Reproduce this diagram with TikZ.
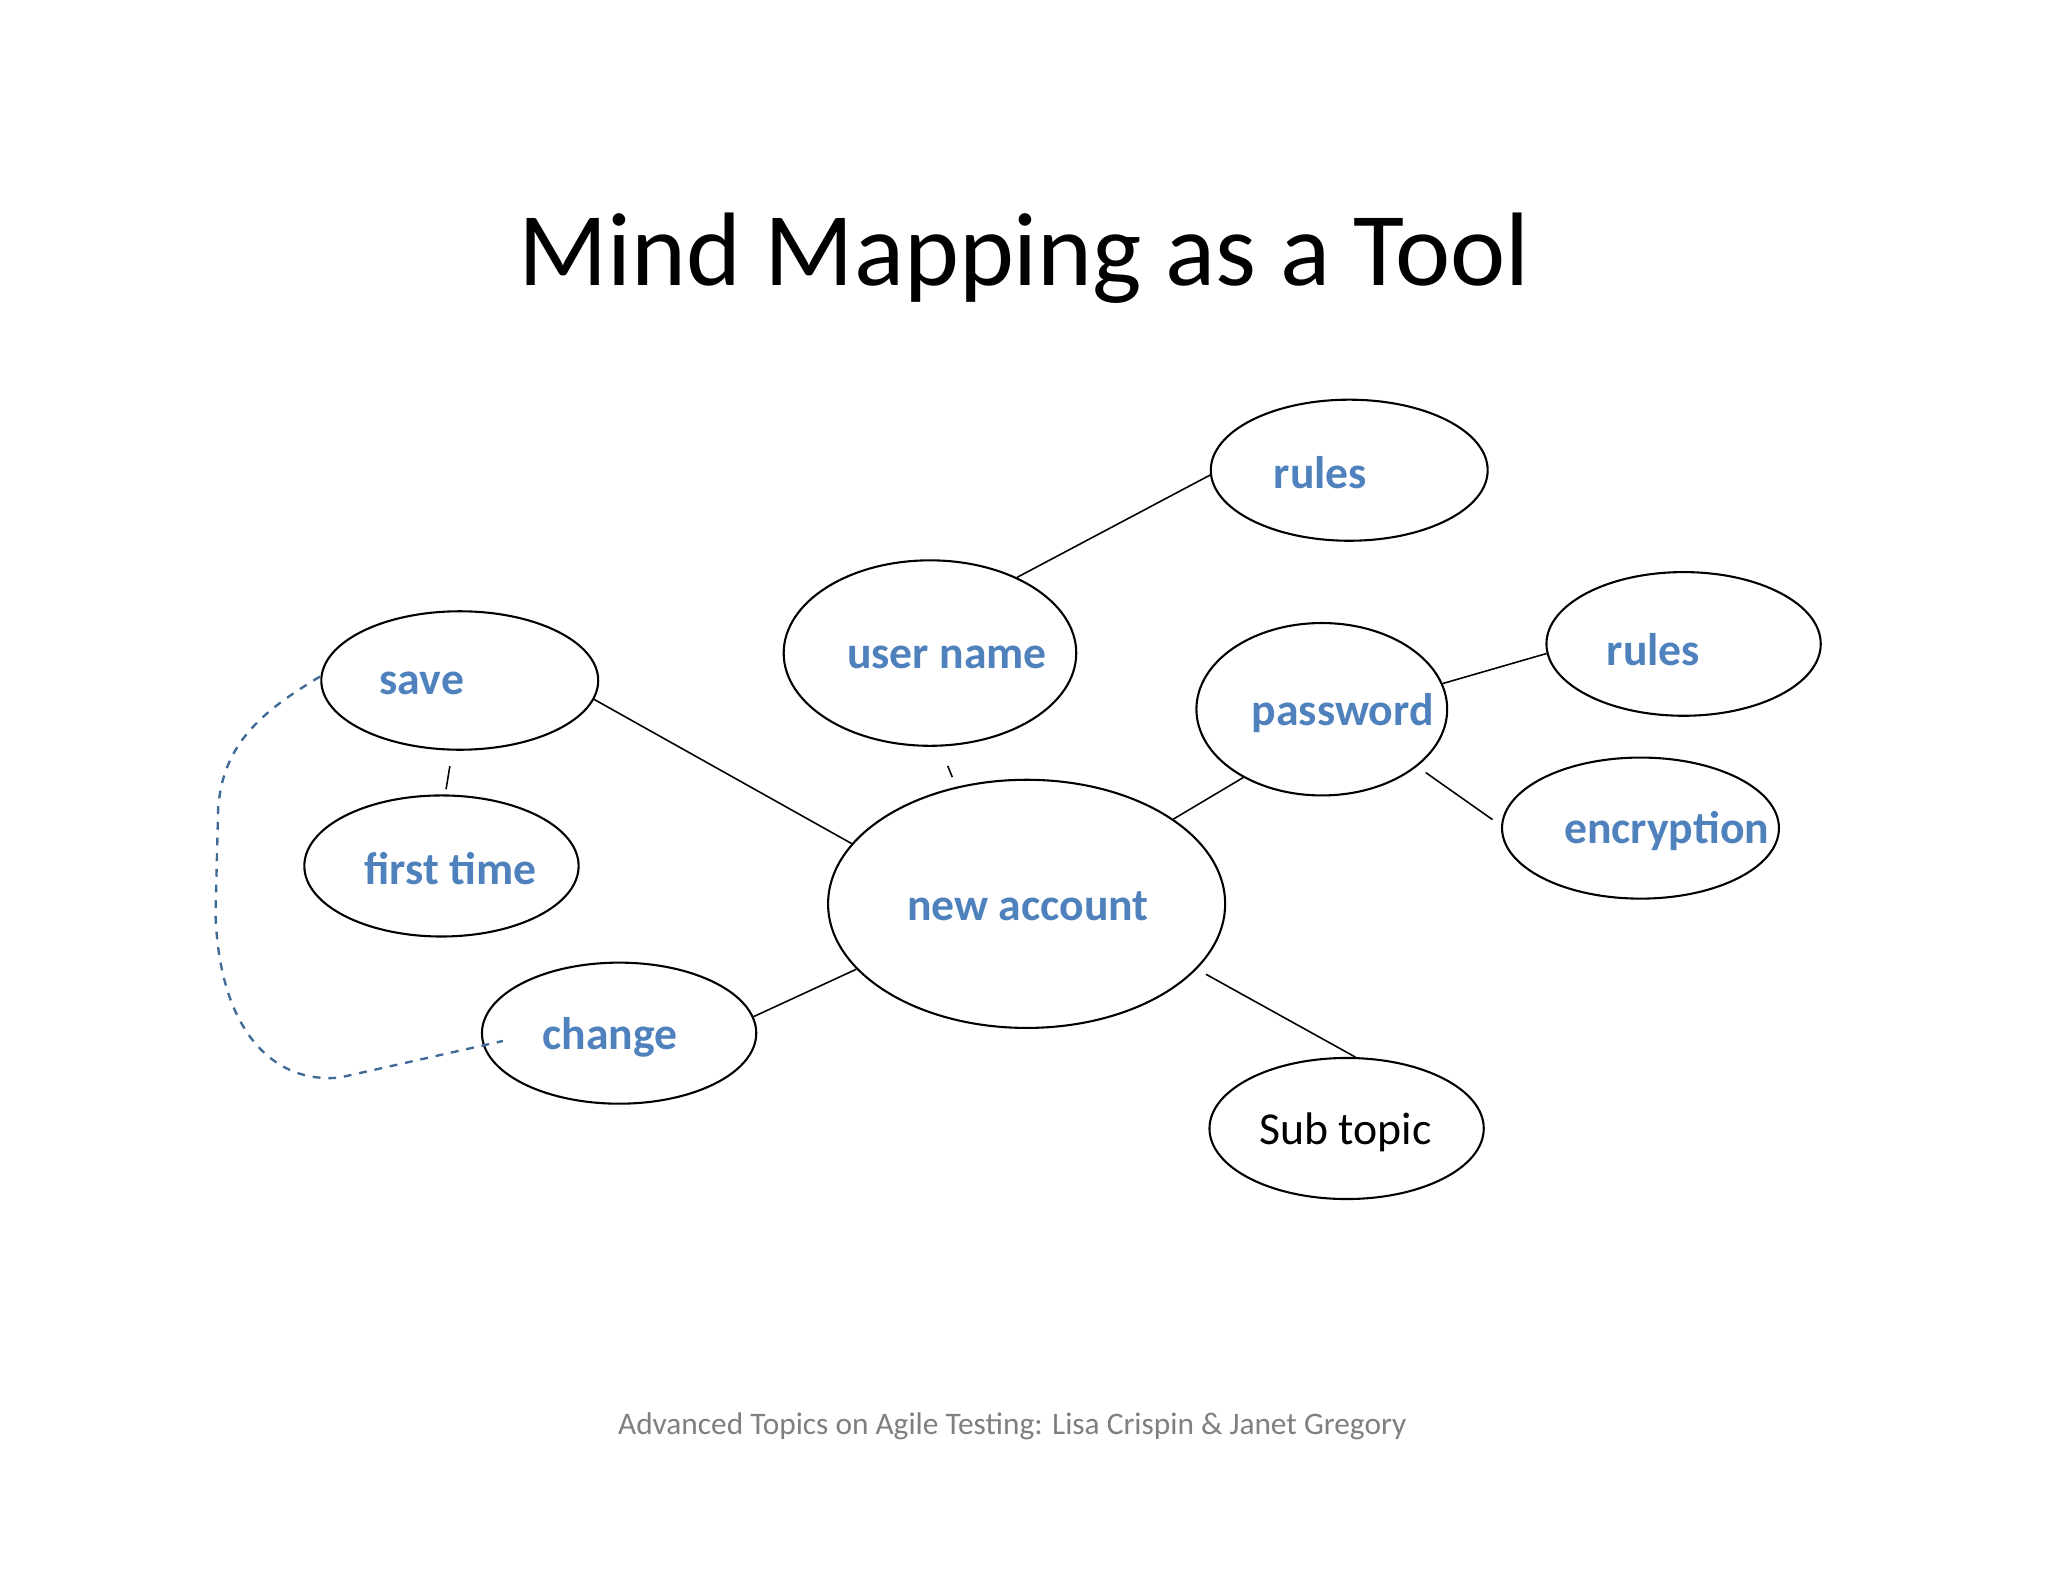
\documentclass[tikz,border=0pt]{standalone}
\usepackage{fontspec}
\setmainfont{Carlito}
\usetikzlibrary{shapes.geometric}
\definecolor{topicblue}{HTML}{4F81BD}
\definecolor{footgray}{HTML}{7F7F7F}
\definecolor{dashblue}{HTML}{3F6A96}
\begin{document}
\begin{tikzpicture}[x=0.5pt,y=-0.5pt,
  bubble/.style={ellipse,draw,line width=0.8pt,inner sep=0pt},
  lbl/.style={font=\fontsize{17.5}{20}\selectfont\bfseries,text=topicblue},
  link/.style={line width=0.6pt}]
\useasboundingbox (0,0) rectangle (1568,1211);
\node (title) at (784,198) {\fontsize{40}{46}\selectfont Mind Mapping as a Tool};
\node[bubble,minimum width=106,minimum height=54] (r1) at (1033,360) {};
\node[bubble,minimum width=112,minimum height=71] (un) at (712,500) {};
\node[bubble,minimum width=106,minimum height=53] (sv) at (352,521) {};
\node[bubble,minimum width=105,minimum height=54] (ft) at (338,663) {};
\node[bubble,minimum width=152,minimum height=95] (na) at (786,692) {};
\node[bubble,minimum width=96,minimum height=66] (pw) at (1012,543) {};
\node[bubble,minimum width=105,minimum height=55] (r2) at (1289,493) {};
\node[bubble,minimum width=106,minimum height=54] (en) at (1256,634) {};
\node[bubble,minimum width=105,minimum height=54] (ch) at (474,791) {};
\node[bubble,minimum width=105,minimum height=54] (st) at (1031,864) {};
\node[lbl] (t1) at (1011,362) {rules};
\node[lbl] (t2) at (725,503) {user name};
\node[lbl] (t3) at (323,523) {save};
\node[lbl] (t4) at (345,665) {first time};
\node[lbl] (t5) at (787,694) {new account};
\node[lbl] (t6) at (1028,546) {password};
\node[lbl] (t7) at (1266,497) {rules};
\node[lbl] (t8) at (1276,636) {encryption};
\node[lbl] (t9) at (467,794) {change};
\node[lbl,text=black,font=\fontsize{17.5}{20}\selectfont] (t10) at (1030,867) {Sub topic};
\draw[link] (na.161) -- (sv.-8);
\draw[link] (un.41) -- (r1.182);
\draw[link,shorten <=8,shorten >=4] (un.-84) -- (na.121);
\draw[link,shorten <=6,shorten >=2] (sv.-96) -- (ft.87);
\draw[link] (na.30) -- (pw.-139);
\draw[link] (pw.12) -- (r2.184);
\draw[link,shorten <=4,shorten >=4] (pw.-31) -- (en.179);
\draw[link] (na.-159) -- (ch.7);
\draw[link,shorten <=4] (na.-21) -- (st.83);
\coordinate (d1) at (245,518);
\coordinate (d2) at (385,797);
\draw[dashed,dashblue,line width=0.9pt] (d1) .. controls (200,545) and (170,570) .. (167,620)
  -- (165,700) .. controls (168,790) and (210,830) .. (260,825) -- (d2);
\node[text=footgray] (foot) at (775,1092) {\fontsize{12}{14}\selectfont Advanced Topics on Agile Testing: Lisa Crispin \& Janet Gregory};
\end{tikzpicture}
\end{document}
